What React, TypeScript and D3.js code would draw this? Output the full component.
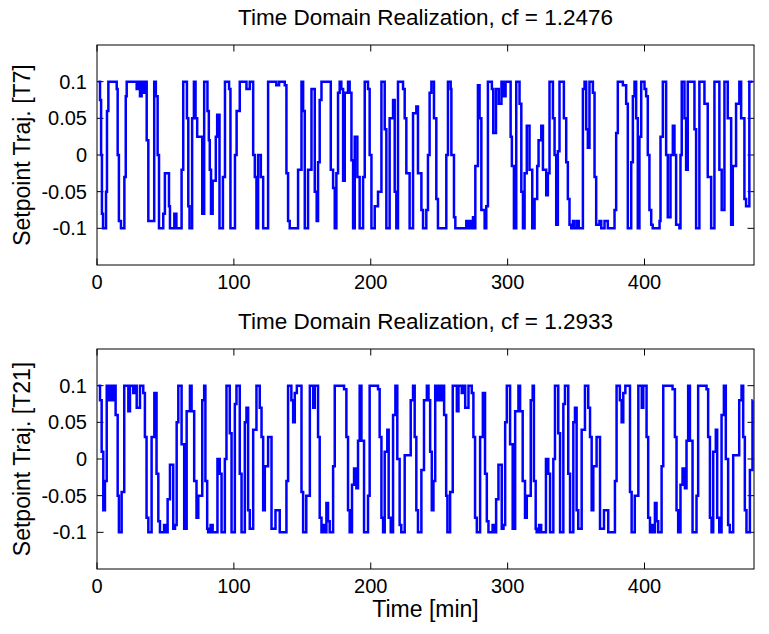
import React from 'react';
import * as d3 from 'd3';

// Axis ticks and labels
const X_TICKS = [0, 100, 200, 300, 400];
const Y_TICKS = [-0.1, -0.05, 0, 0.05, 0.1];
const Y_TICK_LABELS = ['-0.1', '-0.05', '0', '0.05', '0.1'];
const TITLES = ['Time Domain Realization, cf = 1.2476', 'Time Domain Realization, cf = 1.2933'];
const Y_LABELS = ['Setpoint Traj. [T7]', 'Setpoint Traj. [T21]'];
const X_LABEL = 'Time [min]';
const X_DOMAIN: [number, number] = [0, 480];
const Y_DOMAIN: [number, number] = [-0.15, 0.15];
const T_END = 479;

// Setpoint trajectory T7: [time (min), value] held until the next breakpoint
const T7_STEPS: [number, number][] = [
  [1, 0.1], [2.2, 0.075], [3, 0.0], [3.6, -0.08], [4.4, -0.1], [6.6, -0.05], [7.3, 0.06], [8.3, 0.1],
  [14.4, 0.09], [15.1, 0.0], [16, -0.09], [17.5, -0.1], [20, -0.03], [21, 0.08], [21.7, 0.1],
  [29, 0.09], [30.2, 0.1], [31.4, 0.08], [32.6, 0.1], [33.8, 0.085], [35, 0.1], [36.3, 0.02],
  [37.5, -0.09], [41.8, 0.1], [43, 0.08], [44.3, 0.0], [45.3, -0.1], [48.4, -0.08], [49.6, -0.025],
  [52.6, -0.07], [53.3, -0.1], [56.5, -0.08], [58, -0.1], [61.8, -0.02], [63, 0.1], [65.7, 0.05],
  [66.7, -0.07], [67.6, -0.1], [69.5, 0.05], [70.8, 0.1], [72, 0.05], [73.2, 0.025], [76.9, -0.08],
  [78.3, 0.1], [80.7, 0.06], [81.7, 0.02], [82.4, -0.02], [83.3, -0.08], [84.5, -0.035], [86.8, 0.025],
  [87.8, 0.055], [89.5, -0.1], [92, -0.03], [93.5, 0.1], [96.5, 0.09], [97.5, -0.1], [100.8, 0.0],
  [102, 0.06], [104.3, 0.1], [109.2, 0.09], [111.6, 0.1], [114.1, 0.0], [115.3, -0.03], [116.5, -0.1],
  [117.7, 0.0], [119.7, -0.03], [121.4, -0.1], [125, 0.1], [131, 0.095], [133, 0.1], [137.2, 0.095],
  [138.4, -0.025], [139.6, -0.09], [140.8, -0.1], [146.9, -0.02], [149.4, 0.1], [150.6, 0.06],
  [151.8, -0.1], [154.2, -0.02], [156.7, 0.09], [159.1, -0.05], [160.5, -0.09], [161.5, -0.01],
  [162.7, 0.075], [164, 0.1], [170.8, -0.02], [172.5, -0.045], [173.7, -0.1], [174.9, -0.025],
  [176.1, 0.085], [177.3, 0.1], [178.5, 0.09], [179.8, -0.035], [181, 0.085], [183.4, 0.1],
  [184.6, 0.085], [185.9, -0.007], [187.1, -0.1], [188.3, 0.025], [190.2, -0.03], [191.9, -0.1],
  [194.4, -0.03], [195.6, 0.1], [198, 0.09], [199.2, 0.0], [200.5, -0.1], [202.9, -0.07],
  [205.3, -0.05], [207.8, 0.1], [210.2, 0.035], [211.4, -0.1], [213.8, 0.05], [216.3, 0.075],
  [217.5, -0.05], [218.7, -0.1], [219.9, 0.1], [223.6, 0.09], [224.8, 0.05], [226, -0.025],
  [228.4, -0.1], [230.9, 0.057], [233.3, 0.066], [234.5, -0.025], [237, -0.075], [238.2, -0.1],
  [240.6, -0.075], [241.8, 0.0], [243, 0.085], [244.3, 0.1], [246.2, 0.05], [247.9, -0.06],
  [249.1, -0.1], [255.2, 0.0], [256.4, 0.1], [258.4, 0.09], [258.9, 0.0], [260.8, -0.085],
  [261.8, -0.1], [269.8, -0.09], [271, -0.1], [272.2, -0.09], [273.5, -0.1], [274.7, -0.085],
  [275.9, -0.1], [276.4, -0.015], [278.3, 0.095], [279.5, 0.05], [280.8, -0.075], [283.2, -0.1],
  [284.4, -0.07], [285.6, 0.1], [288.5, 0.09], [289.5, 0.03], [291.5, 0.09], [293.5, 0.07],
  [295.5, 0.1], [297, 0.08], [298.5, 0.1], [302.2, 0.025], [303.1, -0.015], [304.6, -0.1],
  [306.3, 0.1], [308.7, 0.07], [310, -0.05], [311.2, -0.1], [312.4, -0.025], [314, 0.04],
  [316, -0.02], [318, -0.1], [319.7, -0.06], [321.6, -0.015], [322.6, 0.02], [324.6, 0.04],
  [325.8, -0.02], [328.2, -0.055], [329.4, -0.025], [330.6, 0.1], [333.1, 0.05], [334.3, 0.0],
  [335.5, -0.095], [336.7, 0.005], [337.9, 0.1], [341.1, 0.05], [342.8, -0.01], [344, -0.06],
  [345.2, -0.095], [346.5, -0.1], [347.7, -0.09], [348.9, -0.1], [350.8, -0.09], [352, -0.1],
  [355, 0.09], [356.2, 0.1], [357.4, 0.035], [358.6, 0.01], [359.8, 0.1], [362.3, 0.085],
  [363.5, -0.03], [364.7, -0.095], [367.1, -0.09], [368.4, -0.1], [370.8, -0.09], [373.2, -0.1],
  [378.1, -0.075], [379.3, 0.03], [380.5, 0.1], [384.2, 0.095], [386.6, 0.07], [387.8, -0.1],
  [390.3, -0.01], [391.5, 0.08], [392.7, 0.1], [393.9, 0.05], [395.1, -0.1], [396.3, 0.025],
  [397.6, 0.1], [400, 0.09], [401.2, 0.08], [402.4, 0.0], [403.6, -0.075], [404.9, -0.095],
  [406, -0.1], [411, -0.09], [411.7, 0.025], [413.4, 0.1], [415.8, 0.0], [417, -0.085],
  [419, 0.0], [420.7, 0.04], [421.9, 0.0], [423.1, -0.095], [425.5, -0.1], [426.3, 0.0],
  [427.2, 0.1], [429.2, 0.05], [430.4, -0.02], [431.6, 0.1], [436.5, 0.035], [437.7, -0.1],
  [440.1, 0.1], [443.8, 0.07], [446.2, -0.03], [448.7, -0.1], [451.1, 0.1], [454.7, -0.02],
  [456.4, -0.075], [458.4, 0.1], [460.8, 0.05], [463.3, -0.095], [464.5, -0.015], [466.9, 0.07],
  [469.3, 0.1], [470.6, 0.05], [473, -0.06], [474.2, -0.07], [476.6, 0.1],
];

// Setpoint trajectory T21: one 240-minute period of the periodic excitation
const T21_PERIOD = 240;
const T21_PERIOD_STEPS: [number, number][] = [
  [1, 0.1], [2.2, 0.08], [3.4, 0.01], [4.6, -0.07], [5.8, -0.03], [7.1, 0.1], [8.3, 0.08],
  [9.5, 0.1], [10.7, 0.08], [11.9, 0.1], [13.6, 0.06], [15.1, -0.05], [16, -0.1], [18, -0.045],
  [19.9, 0.1], [22.9, 0.065], [24.1, 0.1], [26.5, 0.09], [27.7, 0.1], [29, 0.07], [31.4, 0.1],
  [33.8, 0.09], [35, 0.03], [36.2, -0.08], [37.5, -0.1], [39.9, 0.03], [41.9, 0.09], [43.5, -0.02],
  [44.8, -0.085], [46, -0.1], [49, -0.09], [50.5, -0.1], [51.6, -0.055], [53.3, -0.008],
  [55.7, -0.095], [57, -0.09], [58.2, 0.05], [59.4, 0.1], [61.8, 0.02], [63.7, -0.095],
  [65.5, 0.065], [67.9, 0.1], [69.1, 0.065], [71, -0.03], [72.7, -0.08], [74, -0.05], [76.9, 0.08],
  [78.3, 0.1], [79.2, -0.03], [80.5, -0.095], [81.2, -0.1], [83, -0.09], [84.5, -0.1], [88, 0.0],
  [89.7, -0.02], [91, -0.1], [93.4, 0.0], [94.6, 0.1], [97, 0.035], [98.3, -0.1], [100.7, 0.075],
  [101.9, 0.1], [104.3, -0.02], [105.6, -0.1], [108, 0.05], [109.2, 0.07], [110.4, -0.07],
  [111.6, -0.095], [114.1, 0.04], [116.5, 0.1], [118.9, 0.07], [120.2, 0.03], [121.4, -0.07],
  [122.6, -0.01], [125, 0.03], [127.5, -0.095], [130.4, -0.07], [133.5, -0.1], [138.4, -0.03],
  [139.6, 0.1], [142, 0.08], [143.3, 0.05], [144.5, 0.09], [146, 0.1], [149.4, -0.045],
  [150.6, -0.1], [152.9, -0.05], [155.5, 0.1], [158, 0.07], [159.1, 0.1], [161.5, 0.03],
  [162.7, -0.08], [164, -0.1], [165.5, -0.09], [166.5, -0.1], [167.6, -0.06], [168.8, -0.085],
  [170, -0.1], [172.5, -0.01], [173.7, 0.1], [180.5, 0.095], [182.2, 0.03], [183.4, -0.07],
  [184.6, -0.1], [186.3, -0.035], [187.8, -0.013], [189.5, -0.04], [190.7, 0.025], [191.9, 0.1],
  [193.2, 0.025], [195.1, -0.1], [198, -0.05], [199.2, 0.1], [205.3, 0.095], [206.5, 0.03],
  [207.8, -0.08], [209, -0.1], [210.2, 0.01], [212.1, 0.04], [213.1, -0.08], [214.6, -0.1],
  [216.3, 0.06], [218, 0.1], [219.4, 0.0], [221.1, -0.09], [222.3, -0.1], [224.8, 0.005],
  [229.2, 0.08], [230.9, 0.1], [232.1, 0.03], [233.3, -0.07], [234.5, -0.1], [237, -0.015],
  [238.9, 0.08],
];

// Two consecutive periods make up the T21 run
const T21_STEPS: [number, number][] = [
  ...T21_PERIOD_STEPS,
  ...T21_PERIOD_STEPS.map(([t, v]) => [t + T21_PERIOD, v] as [number, number]),
].filter(([t]) => t < T_END);

const SERIES = [T7_STEPS, T21_STEPS];

const W = 769;
const H = 634;
const LEFT = 97;
const RIGHT = 754;
const PANELS = [
  { top: 45, bottom: 265 },
  { top: 349, bottom: 569 },
];
const FONT = "'Liberation Sans', Arial, Helvetica, sans-serif";
const TICK_FS = 20;
const TITLE_FS = 22.5;
const LABEL_FS = 23;
const TICK_LEN = 6.5;

function Panel({ idx }: { idx: number }) {
  const { top, bottom } = PANELS[idx];
  const x = d3.scaleLinear().domain(X_DOMAIN).range([LEFT, RIGHT]);
  const y = d3.scaleLinear().domain(Y_DOMAIN).range([bottom, top]);
  const steps = SERIES[idx];
  const pts: [number, number][] = [...steps, [T_END, steps[steps.length - 1][1]]];
  const line = d3
    .line<[number, number]>()
    .x((d) => x(d[0]))
    .y((d) => y(d[1]))
    .curve(d3.curveStepAfter);
  const midY = (top + bottom) / 2;
  return (
    <g>
      <rect x={LEFT} y={top} width={RIGHT - LEFT} height={bottom - top} fill="#fff" stroke="#000" strokeWidth={1} />
      {X_TICKS.map((t) => (
        <g key={`xt${t}`}>
          <line x1={x(t)} x2={x(t)} y1={bottom} y2={bottom - TICK_LEN} stroke="#000" />
          <line x1={x(t)} x2={x(t)} y1={top} y2={top + TICK_LEN} stroke="#000" />
          <text x={x(t)} y={bottom + 8} dy="0.8em" textAnchor="middle" fontSize={TICK_FS} fontFamily={FONT}>
            {t}
          </text>
        </g>
      ))}
      {Y_TICKS.map((t, i) => (
        <g key={`yt${i}`}>
          <line x1={LEFT} x2={LEFT + TICK_LEN} y1={y(t)} y2={y(t)} stroke="#000" />
          <line x1={RIGHT} x2={RIGHT - TICK_LEN} y1={y(t)} y2={y(t)} stroke="#000" />
          <text x={LEFT - 10} y={y(t)} dy="0.35em" textAnchor="end" fontSize={TICK_FS} fontFamily={FONT}>
            {Y_TICK_LABELS[i]}
          </text>
        </g>
      ))}
      <path d={line(pts) ?? ''} fill="none" stroke="#0000ff" strokeWidth={2.5} strokeLinejoin="miter" />
      <text x={(LEFT + RIGHT) / 2} y={top - 20} textAnchor="middle" fontSize={TITLE_FS} fontFamily={FONT}>
        {TITLES[idx]}
      </text>
      <text
        transform={`translate(30, ${midY}) rotate(-90)`}
        textAnchor="middle"
        fontSize={LABEL_FS}
        fontFamily={FONT}
      >
        {Y_LABELS[idx]}
      </text>
    </g>
  );
}

export default function App() {
  return (
    <svg
      width={W}
      height={H}
      viewBox={`0 0 ${W} ${H}`}
      style={{ position: 'absolute', left: 0, top: 0, background: '#fff' }}
    >
      <rect x={0} y={0} width={W} height={H} fill="#fff" />
      <Panel idx={0} />
      <Panel idx={1} />
      <text x={(LEFT + RIGHT) / 2} y={617} textAnchor="middle" fontSize={LABEL_FS} fontFamily={FONT}>
        {X_LABEL}
      </text>
    </svg>
  );
}
